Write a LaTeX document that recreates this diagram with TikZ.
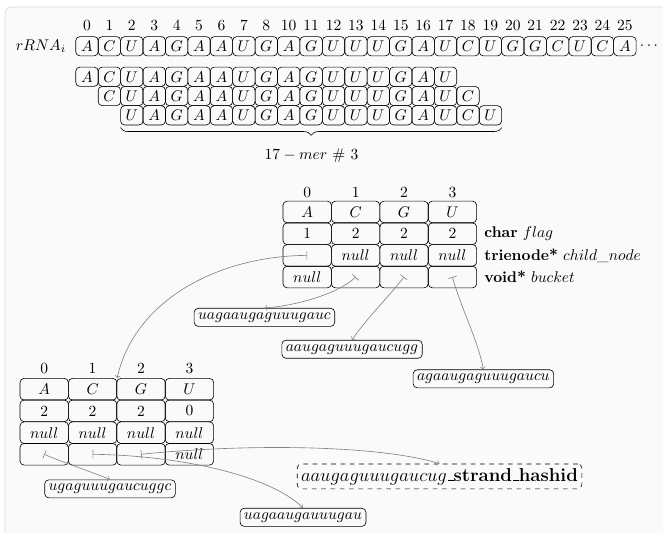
\documentclass[tikz,border=0pt]{standalone}
\usetikzlibrary{decorations.pathreplacing}
\newcommand{\lowbar}{\kern.06em\rule{.3em}{.6pt}}
\tikzset{
  base/.style={draw,rounded corners=2.6bp,inner sep=0pt,minimum width=14.4bp,minimum height=12.4bp},
  slot/.style={draw,rounded corners=2.6bp,inner sep=0pt,minimum width=31.1bp,minimum height=13.9bp},
  kmer/.style={draw,rounded corners=2.6bp,inner xsep=2.5bp,inner ysep=0pt,minimum height=11.6bp},
  ptr/.style={gray,|->},
}
\begin{document}
\begin{tikzpicture}[>=to,line join=bevel,]
\useasboundingbox (0bp,0bp) rectangle (426bp,342bp);
\draw [black!15,fill=black!2,rounded corners=4bp] (3.2bp,-20bp) rectangle (450bp,337.5bp);
%% rRNA strand and its 17-mers
\node (rrlabel) at (26.3bp,312.3bp) {$rRNA_i$};
\foreach \n [count=\i from 0] in {0,1,2,3,4,5,6,7,8,10,11,12,13,14,15,16,17,18,19,20,21,22,23,24,25}
  \node (rri-\i) at ({55.9bp+\i*14.4bp},325.7bp) {\n};
\foreach \l [count=\i from 0] in {A,C,U,A,G,A,A,U,G,A,G,U,U,U,G,A,U,C,U,G,G,C,U,C,A}
  \node [base] (rr-\i) at ({55.9bp+\i*14.4bp},312.3bp) {$\l$};
\node (rrdots) at (417bp,312.3bp) {$\cdots$};
\foreach \l [count=\i from 0] in {A,C,U,A,G,A,A,U,G,A,G,U,U,U,G,A,U}
  \node [base] (ka-\i) at ({55.9bp+\i*14.4bp},292.7bp) {$\l$};
\foreach \l [count=\i from 1] in {C,U,A,G,A,A,U,G,A,G,U,U,U,G,A,U,C}
  \node [base] (kb-\i) at ({55.9bp+\i*14.4bp},280.3bp) {$\l$};
\foreach \l [count=\i from 2] in {U,A,G,A,A,U,G,A,G,U,U,U,G,A,U,C,U}
  \node [base] (kc-\i) at ({55.9bp+\i*14.4bp},267.9bp) {$\l$};
\draw [decorate,decoration={brace,mirror,amplitude=5bp}] ([yshift=-1.5bp]kc-2.south west) -- ([yshift=-1.5bp]kc-18.south east);
\node (kmerlbl) at (200.1bp,242.2bp) {$17-mer$ \# $3$};
%% upper trienode
\foreach \n/\sym/\flg/\chd/\bkt [count=\j from 0] in {0/A/1/{}/{$null$},1/C/2/{$null$}/{},2/G/2/{$null$}/{},3/U/2/{$null$}/{}} {
  \node (t1i-\j) at ({197.4bp+\j*31.1bp},218.6bp) {\n};
  \node [slot] (t1-\j-0) at ({197.4bp+\j*31.1bp},205.8bp) {$\sym$};
  \node [slot] (t1-\j-1) at ({197.4bp+\j*31.1bp},191.8bp) {\flg};
  \node [slot] (t1-\j-2) at ({197.4bp+\j*31.1bp},177.9bp) {\chd};
  \node [slot] (t1-\j-3) at ({197.4bp+\j*31.1bp},164.0bp) {\bkt};
}
\node [anchor=west,inner sep=0pt] (t1flag) at (311bp,191.8bp) {\textbf{char} $flag$};
\node [anchor=west,inner sep=0pt] (t1child) at (311bp,177.9bp) {\textbf{trienode*} $child\_node$};
\node [anchor=west,inner sep=0pt] (t1bucket) at (311bp,164.0bp) {\textbf{void*} $bucket$};
%% lower trienode
\foreach \n/\sym/\flg/\chd/\bkt [count=\j from 0] in {0/A/2/{$null$}/{},1/C/2/{$null$}/{},2/G/2/{$null$}/{},3/U/0/{$null$}/{$null$}} {
  \node (t2i-\j) at ({28.4bp+\j*31.1bp},105.4bp) {\n};
  \node [slot] (t2-\j-0) at ({28.4bp+\j*31.1bp},91.9bp) {$\sym$};
  \node [slot] (t2-\j-1) at ({28.4bp+\j*31.1bp},78.0bp) {\flg};
  \node [slot] (t2-\j-2) at ({28.4bp+\j*31.1bp},64.0bp) {\chd};
  \node [slot] (t2-\j-3) at ({28.4bp+\j*31.1bp},50.1bp) {\bkt};
}
%% buckets
\node [kmer] (b1) at (169.9bp,138.1bp) {$uagaaugaguuugauc$};
\node [kmer] (b2) at (226.2bp,117.6bp) {$aaugaguuugaucugg$};
\node [kmer] (b3) at (310.6bp,98.6bp) {$agaaugaguuugaucu$};
\node [kmer] (b4) at (70.7bp,27.9bp) {$ugaguuugaucuggc$};
\node [kmer] (b5) at (194.7bp,9.6bp) {$uagaaugauuugau$};
\node [kmer,dashed,minimum height=16bp,font=\large] (hash) at (282.4bp,35.9bp) {$aaugaguuugaucug$\textbf{\lowbar strand\lowbar hashid}};
%% pointers
\draw [ptr] (t1-0-2.center) ..controls (141.3bp,177.6bp) and (86.7bp,149.9bp) .. (t2-1-0.north east);
\draw [ptr] (t1-1-3.center) ..controls (218.5bp,154.2bp) and (192.8bp,145.8bp) .. (b1.north);
\draw [ptr] (t1-2-3.center) ..controls (250.6bp,152.3bp) and (234.5bp,136.2bp) .. (b2.north);
\draw [ptr] (t1-3-3.center) ..controls (296.8bp,142.4bp) and (307.1bp,123.4bp) .. (b3.north);
\draw [ptr] (t2-0-3.center) ..controls (41.8bp,44.3bp) and (57.8bp,39.2bp) .. (b4.north);
\draw [ptr] (t2-1-3.center) ..controls (115.7bp,49.3bp) and (173.5bp,36.6bp) .. (b5.north);
\draw [ptr] (t2-2-3.center) ..controls (160.6bp,57.2bp) and (244.1bp,55.9bp) .. (hash.north);
%
\end{tikzpicture}
\end{document}
